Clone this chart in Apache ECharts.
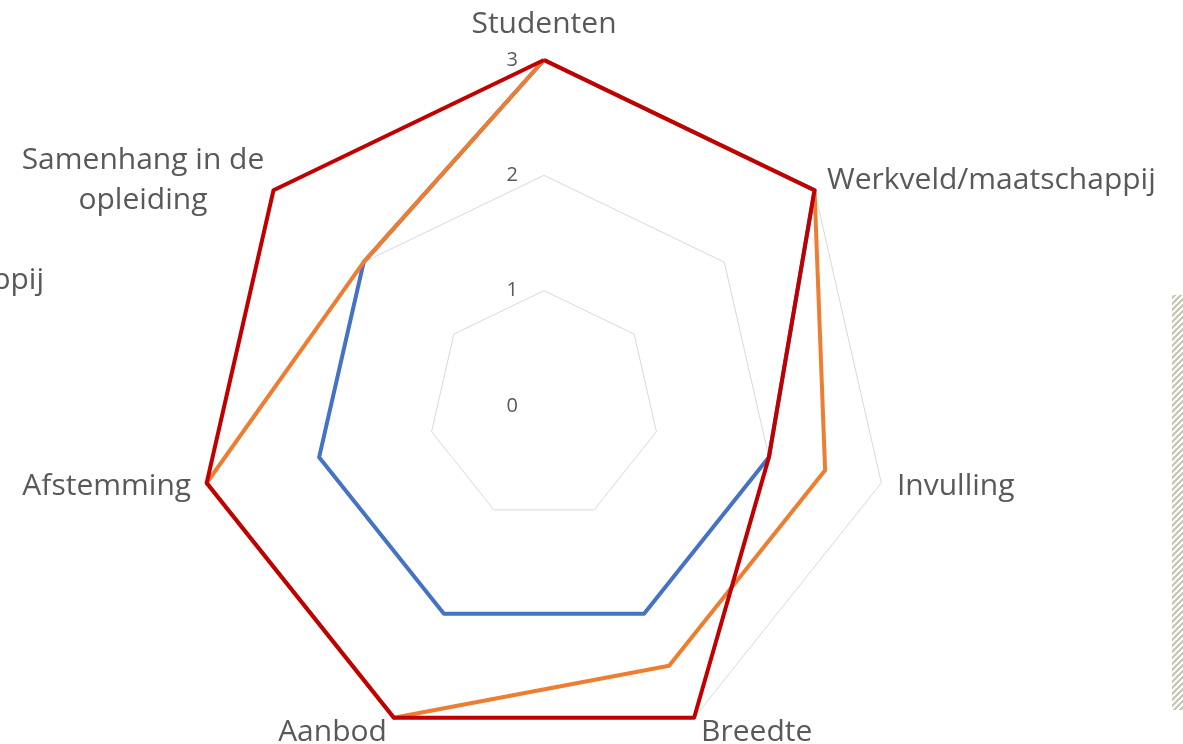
<!DOCTYPE html>
<html>
<head>
<meta charset="utf-8">
<script src="https://cdn.jsdelivr.net/npm/echarts@6/dist/echarts.min.js"></script>
<style>
  html, body { margin: 0; padding: 0; background: #fff; }
  #chart { width: 1183px; height: 744px; }
</style>
</head>
<body>
<div id="chart"></div>
<script>
// categories in clockwise order, starting at the top
const categories = ['Studenten', 'Werkveld/maatschappij', 'Invulling', 'Breedte', 'Aanbod', 'Afstemming', 'Samenhang in de\nopleiding'];
const blueValues = [3, 3, 2, 2, 2, 2, 2];
const orangeValues = [3, 3, 2.5, 2.5, 3, 3, 2];
const redValues = [3, 3, 2, 3, 3, 3, 3];
const tickLabels = ['0', '1', '2', '3'];

const textColor = '#595959';
const fontFamily = '"Open Sans", "Noto Sans", sans-serif';
const nameSize = 30;

// echarts places radar indicators counter-clockwise, so flip the order after the first one
const flip = arr => [arr[0]].concat(arr.slice(1).reverse());

const center = [544, 406];
const radius = 346;

// hatched strip on the right edge
const pat = document.createElement('canvas');
pat.width = 6; pat.height = 6;
const pctx = pat.getContext('2d');
pctx.fillStyle = '#fff';
pctx.fillRect(0, 0, 6, 6);
pctx.strokeStyle = '#c4c3ad';
pctx.lineWidth = 2;
pctx.beginPath();
pctx.moveTo(-1, 7); pctx.lineTo(7, -1);
pctx.moveTo(-4, 4); pctx.lineTo(4, -4);
pctx.moveTo(2, 10); pctx.lineTo(10, 2);
pctx.stroke();

const chart = echarts.init(document.getElementById('chart'));

const option = {
  backgroundColor: '#fff',
  animation: false,
  radar: {
    center: center,
    radius: radius,
    startAngle: 90,
    splitNumber: 3,
    shape: 'polygon',
    indicator: flip(categories).map(name => ({ name: name, min: 0, max: 3 })),
    axisName: {
      color: textColor,
      fontSize: nameSize,
      fontFamily: fontFamily,
      lineHeight: 40,
      // two-line names are centred on each other, like the original
      formatter: name => name.indexOf('\n') < 0 ? name
        : name.split('\n').map(l => '{c|' + l + '}').join('\n'),
      rich: {
        c: { width: 236, align: 'center', color: textColor, fontSize: nameSize, fontFamily: fontFamily, lineHeight: 40 }
      }
    },
    nameGap: 16,
    axisLine: { show: false },
    axisTick: { show: false },
    axisLabel: { show: false },
    splitArea: { show: false },
    splitLine: { lineStyle: { color: '#d9d9d9', width: 1 } }
  },
  // value axis along the top spoke, only for the 0..3 labels
  grid: { left: center[0], top: center[1] - radius, height: radius, width: 10, containLabel: false },
  xAxis: { type: 'value', show: false },
  yAxis: {
    type: 'category',
    data: tickLabels,
    boundaryGap: false,
    axisLine: { show: false },
    axisTick: { show: false },
    splitLine: { show: false },
    axisLabel: { color: textColor, fontSize: 20, fontFamily: fontFamily, margin: 26 }
  },
  series: [{
    type: 'radar',
    symbol: 'none',
    data: [
      { name: 'Reeks1', value: flip(blueValues), lineStyle: { color: '#4472c4', width: 4 } },
      { name: 'Reeks2', value: flip(orangeValues), lineStyle: { color: '#ed7d31', width: 4 } },
      { name: 'Reeks3', value: flip(redValues), lineStyle: { color: '#c00000', width: 4 } }
    ]
  }],
  graphic: [
    {
      type: 'text',
      x: 44,
      y: 280,
      style: { text: 'ppij', fill: textColor, fontSize: nameSize, fontFamily: fontFamily, align: 'right', verticalAlign: 'middle' }
    },
    {
      type: 'rect',
      shape: { x: 1172, y: 295, width: 11, height: 415 },
      style: { fill: { image: pat, repeat: 'repeat' } },
      silent: true
    }
  ]
};

chart.setOption(option);
</script>
</body>
</html>
